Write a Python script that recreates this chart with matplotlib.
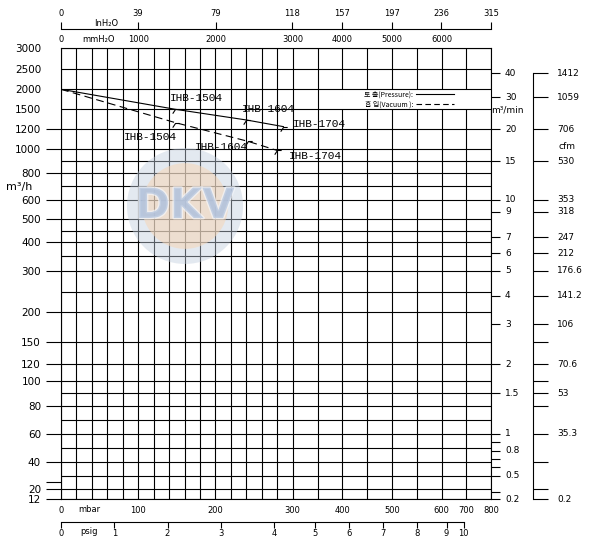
import numpy as np
import matplotlib
matplotlib.use('Agg')
import matplotlib.pyplot as plt
from matplotlib.lines import Line2D
from matplotlib.path import Path
from matplotlib.patches import Ellipse
import matplotlib.patheffects as pe

# performance curves: pressure side (solid) / vacuum side (dashed), mbar vs m3/h
pressure_mbar = [0, 148, 240, 288]
pressure_flow = [2000, 1500, 1340, 1240]
vacuum_mbar = [0, 148, 242, 280]
vacuum_flow = [2000, 1300, 1080, 990]
model_names = ['IHB-1504', 'IHB-1604', 'IHB-1704']

# left scale (m3/h)
flow_labels = [3000, 2500, 2000, 1500, 1200, 1000, 800, 600, 500, 400, 300,
               200, 150, 120, 100, 80, 60, 40, 20, 12]
flow_grid = [3000, 2500, 2000, 1500, 1200, 1000, 900, 800, 700, 600, 500, 450,
             400, 350, 300, 250, 200, 150, 120, 100, 90, 80, 70, 60, 50, 40,
             30, 20, 12]
flow_side_ticks = [1200, 1000, 800, 600, 500, 400, 300, 200, 150, 120, 100,
                   80, 60, 40, 25, 20, 12]

# bottom / top scales
mbar_labels = [0, 100, 200, 300, 400, 500, 600, 700, 800]
mbar_grid = list(range(0, 301, 20)) + [350, 400, 450, 500, 550, 600, 700, 800]
psig_labels = list(range(0, 11))
mmh2o_labels = [0, 1000, 2000, 3000, 4000, 5000, 6000]
inh2o_labels = [0, 39, 79, 118, 157, 197, 236, 315]

# right scales
m3min_labels = [40, 30, 20, 15, 10, 9, 7, 6, 5, 4, 3, 2, 1.5, 1, 0.8, 0.5, 0.2]
m3min_minor = [0.9, 0.7, 0.6, 0.3]
cfm_labels = ['1412', '1059', '706', '530', '353', '318', '247', '212',
              '176.6', '141.2', '106', '70.6', '53', '35.3', '0.2']
cfm_at_m3min = [40, 30, 20, 15, 10, 9, 7, 6, 5, 4, 3, 2, 1.5, 1, 0.2]
cfm_minor_m3h = [150, 100, 80, 40, 20]

MBAR_PER_PSI = 68.95
MBAR_PER_INH2O = 2.54
MBAR_PER_MMH2O = 0.1

# the printed scales are hand made (neither linear nor log),
# so calibrate value -> drawn position
X_CAL_MBAR = [0, 300, 400, 500, 600, 700, 800]
X_CAL_POS = [0, 231.7, 281.3, 330.9, 380.5, 405.3, 430]
Y_CAL_FLOW = [12, 20, 40, 60, 80, 100, 120, 150, 200, 300, 400, 500, 600, 800,
              1000, 1200, 1500, 2000, 2500, 3000]
Y_CAL_POS = [0, 10, 37.6, 65.3, 93.3, 118.6, 135, 157.3, 187, 228.6, 257.6,
             280, 299.3, 326.6, 350, 370, 390, 410, 430, 451]

LW = 0.8
NUM_FONT = 'DejaVu Sans'
LABEL_FONT = 'Liberation Mono'
KR_FONT = ['Noto Sans CJK KR', 'DejaVu Sans']


def main():
    fig = plt.figure(figsize=(5.96, 5.45), dpi=100)
    ax = fig.add_axes([61 / 596, 45.7 / 545, 430 / 596, 451 / 545])

    ax.set_xscale('function', functions=(lambda v: np.interp(v, X_CAL_MBAR, X_CAL_POS),
                                         lambda p: np.interp(p, X_CAL_POS, X_CAL_MBAR)))
    ax.set_yscale('function', functions=(lambda v: np.interp(v, Y_CAL_FLOW, Y_CAL_POS),
                                         lambda p: np.interp(p, Y_CAL_POS, Y_CAL_FLOW)))
    ax.set_xlim(0, 800)
    ax.set_ylim(12, 3000)
    for s in ax.spines.values():
        s.set_linewidth(LW)

    # grid
    ax.vlines(mbar_grid, 12, 3000, colors='black', lw=LW, zorder=2)
    ax.hlines(flow_grid, 0, 800, colors='black', lw=LW, zorder=3)
    ax.axhspan(1500, 2000, xmin=0.648, xmax=1, color='white', lw=0, zorder=2.5)

    # faded watermark logo
    wx, wy = 0.2884, 0.6503
    ax.add_patch(Ellipse((wx, wy), 0.27, 0.257, transform=ax.transAxes,
                         facecolor='#c3cfdf', edgecolor='none', alpha=0.45, zorder=3.2))
    ax.add_patch(Ellipse((wx, wy), 0.20, 0.19, transform=ax.transAxes,
                         facecolor='#f6d6b6', edgecolor='none', alpha=0.55, zorder=3.3))
    ax.text(wx, wy, 'DKV', transform=ax.transAxes, ha='center', va='center',
            fontsize=30, fontweight='bold', color='#b3c3dc', alpha=0.7, zorder=3.4,
            path_effects=[pe.withStroke(linewidth=2, foreground='#f4f6fa')])

    # curves
    hook = Path([(-0.6, -0.9), (0, 0), (0.9, 0)], [Path.MOVETO, Path.LINETO, Path.LINETO])
    ax.plot(pressure_mbar, pressure_flow, color='black', lw=LW, zorder=4)
    ax.plot(pressure_mbar[1:], pressure_flow[1:], ls='none', marker=hook, ms=6,
            mfc='none', mec='black', mew=LW, zorder=4)
    ax.plot(vacuum_mbar, vacuum_flow, color='black', lw=LW, ls=(0, (7, 4)), zorder=4)
    ax.plot(vacuum_mbar[1:], vacuum_flow[1:], ls='none', marker=hook, ms=6,
            mfc='none', mec='black', mew=LW, zorder=4)

    p_offsets = [((-4, 8), 'left'), ((-3, 8), 'left'), ((7, 2), 'left')]
    v_offsets = [((1, -10), 'right'), ((0, -4), 'right'), ((8, -4), 'left')]
    for name, x, y, (off, ha) in zip(model_names, pressure_mbar[1:], pressure_flow[1:], p_offsets):
        ax.annotate(name, (x, y), xytext=off, textcoords='offset points', ha=ha,
                    va='center', fontsize=8, family=LABEL_FONT, zorder=5)
    for name, x, y, (off, ha) in zip(model_names, vacuum_mbar[1:], vacuum_flow[1:], v_offsets):
        ax.annotate(name, (x, y), xytext=off, textcoords='offset points', ha=ha,
                    va='center', fontsize=8, family=LABEL_FONT, zorder=5)

    # legend
    handles = [Line2D([], [], color='black', lw=LW),
               Line2D([], [], color='black', lw=LW, ls=(0, (5, 3)))]
    ax.legend(handles, ['토 출(Pressure):', '흡 입(Vacuum ):'], loc='center left',
              bbox_to_anchor=(0.705, 0.887), frameon=False, markerfirst=False,
              prop={'family': KR_FONT, 'size': 5}, handlelength=5.5,
              handletextpad=0.4, labelspacing=0.25, borderpad=0, borderaxespad=0)

    # left scale
    ax.set_yticks(flow_labels, [str(v) for v in flow_labels], fontsize=7.5, family=NUM_FONT)
    ax.tick_params(axis='y', length=0, pad=14.4)
    ytr = ax.get_yaxis_transform()
    ax.hlines(flow_side_ticks, -0.035, 0, transform=ytr, clip_on=False, colors='black', lw=LW)
    ax.text(-0.128, 0.6925, 'm³/h', transform=ax.transAxes, ha='left', va='center',
            fontsize=8, family=NUM_FONT)

    # bottom mbar scale
    ax.set_xticks(mbar_labels, [str(v) for v in mbar_labels], fontsize=6, family=NUM_FONT)
    ax.tick_params(axis='x', length=0, pad=5)
    xtr = ax.get_xaxis_transform()
    ax.text(0.067, -0.0237, 'mbar', transform=ax.transAxes, ha='center', va='center',
            fontsize=6, family=NUM_FONT)

    # psig scale
    psig_x = [v * MBAR_PER_PSI for v in psig_labels]
    ax.plot([psig_x[0], psig_x[-1]], [-0.0497, -0.0497], color='black', lw=LW,
            transform=xtr, clip_on=False)
    ax.vlines(psig_x, -0.0643, -0.0497, transform=xtr, clip_on=False, colors='black', lw=LW)
    for v, x in zip(psig_labels, psig_x):
        ax.text(x, -0.0757, str(v), transform=xtr, ha='center', va='center',
                fontsize=6, family=NUM_FONT)
    ax.text(0.065, -0.0725, 'psig', transform=ax.transAxes, ha='center', va='center',
            fontsize=6, family=NUM_FONT)

    # top inH2O / mmH2O scales
    in_x = [min(v * MBAR_PER_INH2O, 800) for v in inh2o_labels]
    ax.plot([0, 800], [1.0421, 1.0421], color='black', lw=LW, transform=xtr, clip_on=False)
    ax.vlines(in_x, 1.0421, 1.059, transform=xtr, clip_on=False, colors='black', lw=LW)
    for v, x in zip(inh2o_labels, in_x):
        ax.text(x, 1.078, str(v), transform=xtr, ha='center', va='center',
                fontsize=6, family=NUM_FONT)
    ax.text(0.105, 1.0547, 'InH₂O', transform=ax.transAxes, ha='center', va='center',
            fontsize=6, family=NUM_FONT)
    for v in mmh2o_labels:
        ax.text(v * MBAR_PER_MMH2O, 1.020, str(v), transform=xtr, ha='center',
                va='center', fontsize=6, family=NUM_FONT)
    ax.text(0.088, 1.020, 'mmH₂O', transform=ax.transAxes, ha='center', va='center',
            fontsize=6, family=NUM_FONT)

    # right m3/min scale
    ax.hlines([v * 60 for v in m3min_labels + m3min_minor], 1.0, 1.021, transform=ytr,
              clip_on=False, colors='black', lw=LW)
    for v in m3min_labels:
        ax.text(1.0326, v * 60, f'{v:g}', transform=ytr, ha='left', va='center',
                fontsize=6.5, family=NUM_FONT)
    ax.text(1.0, 0.863, 'm³/min', transform=ax.transAxes, ha='left', va='center',
            fontsize=6.5, family=NUM_FONT)

    # right cfm scale
    ax.plot([1.0977, 1.0977], [cfm_at_m3min[0] * 60, cfm_at_m3min[-1] * 60], color='black',
            lw=LW, transform=ytr, clip_on=False)
    ax.hlines([v * 60 for v in cfm_at_m3min] + cfm_minor_m3h, 1.0977, 1.1326, transform=ytr,
              clip_on=False, colors='black', lw=LW)
    for lab, v in zip(cfm_labels, cfm_at_m3min):
        ax.text(1.1535, v * 60, lab, transform=ytr, ha='left', va='center',
                fontsize=6.5, family=NUM_FONT)
    ax.text(1.156, 0.783, 'cfm', transform=ax.transAxes, ha='left', va='center',
            fontsize=6.5, family=NUM_FONT)

    ax.set_xlim(0, 800)
    ax.set_ylim(12, 3000)
    fig.savefig('out.png', dpi=100)
    plt.close(fig)


if __name__ == "__main__":
    main()
